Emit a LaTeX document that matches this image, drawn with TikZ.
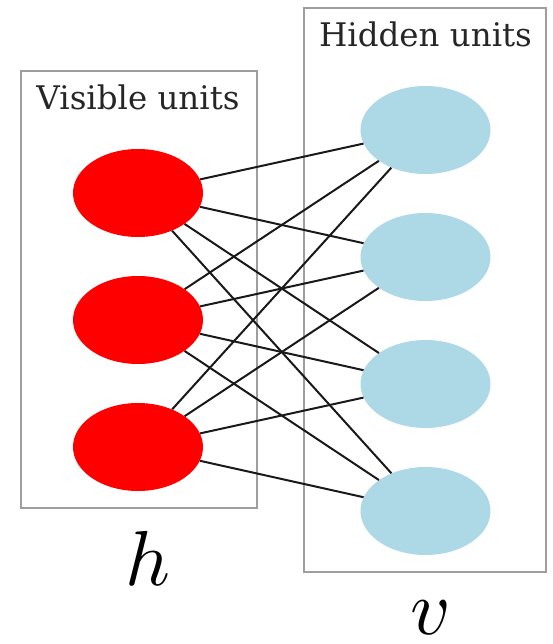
\documentclass[tikz,border=0pt]{standalone}
\usepackage{fontspec}
\setmainfont{DejaVu Serif}
\usepackage{unicode-math}
\setmathfont{Latin Modern Math}
\usetikzlibrary{shapes.geometric}
\begin{document}
\begin{tikzpicture}[x=1pt,y=-1pt,
  unitbox/.style={draw=black!38,line width=1.8pt},
  vis/.style={ellipse,fill=red,minimum width=130pt,minimum height=88pt,inner sep=0pt},
  hid/.style={ellipse,fill={rgb,255:red,173;green,216;blue,230},minimum width=130pt,minimum height=88pt,inner sep=0pt},
  conn/.style={draw=black!90,line width=2pt},
  boxlabel/.style={anchor=base,font=\fontsize{32.5}{36}\selectfont,text=black!85},
  mathlabel/.style={anchor=base,inner sep=0pt,font=\fontsize{78}{80}\selectfont}]
\useasboundingbox (0,0) rectangle (552,644);
\draw[unitbox] (21,71) rectangle (257,508);
\draw[unitbox] (304,8) rectangle (546,572);
\node[boxlabel] (vl) at (138,110) {Visible units};
\node[boxlabel] (hl) at (425.5,47) {Hidden units};
\node[vis] (r1) at (138,193) {};
\node[vis] (r2) at (138,320) {};
\node[vis] (r3) at (138,447) {};
\node[hid] (b1) at (425.5,130) {};
\node[hid] (b2) at (425.5,257) {};
\node[hid] (b3) at (425.5,384) {};
\node[hid] (b4) at (425.5,511) {};
\foreach \r in {r1,r2,r3}{
  \foreach \b in {b1,b2,b3,b4}{
    \draw[conn] (\r) -- (\b);
  }
}
\node[mathlabel] (h) at (148,585) {$h$};
\node[mathlabel] (v) at (430,634) {$v$};
\end{tikzpicture}
\end{document}
